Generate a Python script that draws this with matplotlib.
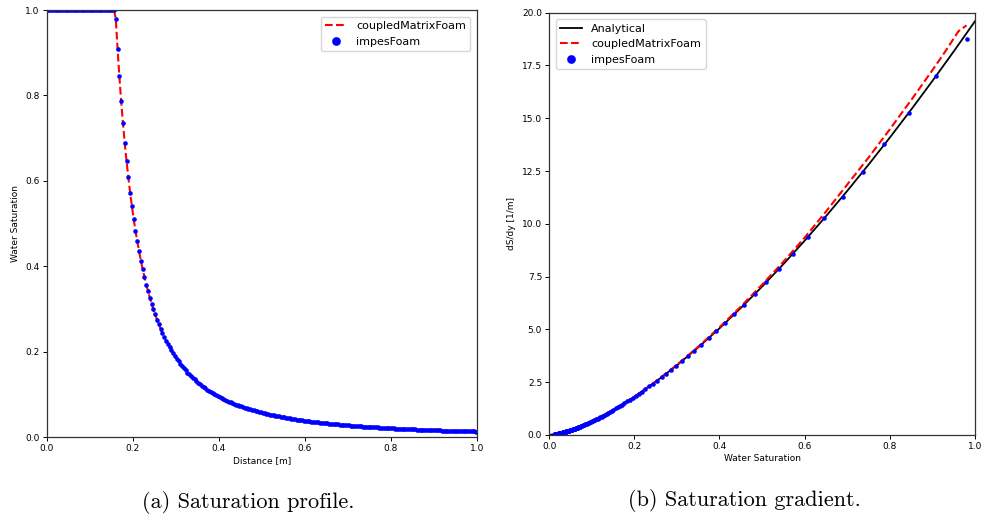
import numpy as np
import matplotlib
matplotlib.use("Agg")
import matplotlib.pyplot as plt

# mesh: 240 uniform cells on [0, 1] m
n_cells = 240
cell_x = (np.arange(n_cells) + 0.5) / n_cells

# impesFoam saturation: fully saturated cells behind the front
n_saturated = 38
front_sat = [
    0.980, 0.909, 0.845, 0.787, 0.736, 0.689, 0.646, 0.608, 0.572, 0.540,
    0.510, 0.483, 0.458, 0.435, 0.413, 0.393, 0.375, 0.357, 0.341, 0.326,
    0.312, 0.299, 0.287, 0.275, 0.264, 0.254, 0.244, 0.235, 0.226, 0.218,
    0.210, 0.203, 0.196, 0.190, 0.183, 0.177, 0.172, 0.166, 0.161, 0.156,
    0.151, 0.147, 0.143, 0.139, 0.135, 0.131, 0.127, 0.124, 0.120, 0.117,
    0.114, 0.111, 0.108, 0.106, 0.103, 0.100, 0.098, 0.096, 0.093, 0.091,
    0.089, 0.087, 0.085, 0.083, 0.081, 0.080, 0.078, 0.076, 0.075, 0.073,
    0.0715, 0.0700, 0.0686, 0.0672, 0.0659, 0.0646, 0.0633, 0.0621, 0.0609, 0.0598,
    0.0586, 0.0575, 0.0565, 0.0554, 0.0544, 0.0535, 0.0525, 0.0516, 0.0507, 0.0498,
    0.0489, 0.0481, 0.0473, 0.0465, 0.0457, 0.0450, 0.0442, 0.0435, 0.0428, 0.0421,
    0.0415, 0.0408, 0.0402, 0.0396, 0.0390, 0.0384, 0.0378, 0.0372, 0.0367, 0.0361,
    0.0356, 0.0351, 0.0346, 0.0341, 0.0336, 0.0331, 0.0327, 0.0322, 0.0318, 0.0313,
    0.0309, 0.0305, 0.0301, 0.0297, 0.0293, 0.0289, 0.0285, 0.0281, 0.0278, 0.0274,
    0.0271, 0.0267, 0.0264, 0.0260, 0.0257, 0.0254, 0.0251, 0.0248, 0.0245, 0.0242,
    0.0239, 0.0236, 0.0233, 0.0230, 0.0228, 0.0225, 0.0223, 0.0220, 0.0217, 0.0215,
    0.0212, 0.0210, 0.0208, 0.0205, 0.0203, 0.0201, 0.0199, 0.0197, 0.0194, 0.0192,
    0.0190, 0.0188, 0.0186, 0.0184, 0.0182, 0.0180, 0.0179, 0.0177, 0.0175, 0.0173,
    0.0171, 0.0170, 0.0168, 0.0166, 0.0165, 0.0163, 0.0161, 0.0160, 0.0158, 0.0157,
    0.0155, 0.0154, 0.0152, 0.0151, 0.0149, 0.0148, 0.0146, 0.0145, 0.0144, 0.0142,
    0.0141, 0.0140, 0.0138, 0.0137, 0.0136, 0.0135, 0.0134, 0.0132, 0.0131, 0.0130,
    0.0129, 0.0128,
]
impes_sat = [1.0] * n_saturated + front_sat
# coupledMatrixFoam profile is indistinguishable from impesFoam at this scale
coupled_sat = list(impes_sat)

# impesFoam gradient dS/dy for the front cells (same order as front_sat)
impes_grad = [
    18.75, 17.01, 15.27, 13.76, 12.44, 11.29, 10.27, 9.37, 8.58, 7.87,
    7.24, 6.67, 6.17, 5.71, 5.30, 4.92, 4.58, 4.27, 3.99, 3.73,
    3.50, 3.28, 3.08, 2.90, 2.73, 2.58, 2.43, 2.30, 2.17, 2.06,
    1.95, 1.85, 1.76, 1.67, 1.59, 1.52, 1.44, 1.38, 1.31, 1.26,
    1.20, 1.130, 1.082, 1.036, 0.992, 0.952, 0.913, 0.876, 0.842, 0.809,
    0.778, 0.748, 0.720, 0.693, 0.668, 0.644, 0.621, 0.599, 0.578, 0.558,
    0.539, 0.521, 0.504, 0.487, 0.471, 0.456, 0.442, 0.428, 0.414, 0.402,
    0.389, 0.378, 0.366, 0.355, 0.345, 0.335, 0.325, 0.316, 0.307, 0.298,
    0.290, 0.282, 0.275, 0.267, 0.260, 0.253, 0.246, 0.240, 0.234, 0.228,
    0.222, 0.216, 0.211, 0.206, 0.201, 0.196, 0.191, 0.187, 0.182, 0.178,
    0.174, 0.170, 0.167, 0.163, 0.160, 0.156, 0.153, 0.149, 0.146, 0.142,
    0.139, 0.136, 0.134, 0.131, 0.128, 0.126, 0.123, 0.120, 0.117, 0.115,
    0.112, 0.110, 0.108, 0.106, 0.104, 0.102, 0.100, 0.098, 0.096, 0.094,
    0.092, 0.091, 0.089, 0.087, 0.086, 0.084, 0.083, 0.081, 0.080, 0.078,
    0.077, 0.076, 0.074, 0.073, 0.072, 0.071, 0.070, 0.068, 0.067, 0.066,
    0.065, 0.064, 0.063, 0.062, 0.061, 0.060, 0.059, 0.058, 0.057, 0.056,
    0.055, 0.054, 0.053, 0.052, 0.051, 0.051, 0.050, 0.049, 0.048, 0.048,
    0.047, 0.046, 0.046, 0.045, 0.044, 0.044, 0.043, 0.042, 0.042, 0.041,
    0.0405, 0.040, 0.039, 0.039, 0.038, 0.038, 0.037, 0.037, 0.036, 0.036,
    0.035, 0.035, 0.034, 0.034, 0.033, 0.033, 0.032, 0.032, 0.032, 0.031,
    0.031, 0.030,
]

# analytical dS/dy vs S
analytic_sat = [0.0, 0.025, 0.05, 0.1, 0.15, 0.2, 0.25, 0.3, 0.35, 0.4, 0.45,
                0.5, 0.55, 0.6, 0.65, 0.7, 0.75, 0.8, 0.85, 0.9, 0.95, 1.0]
analytic_grad = [0.0, 0.083, 0.233, 0.649, 1.182, 1.810, 2.519, 3.299, 4.145,
                 5.050, 6.012, 7.026, 8.091, 9.203, 10.360, 11.561, 12.804,
                 14.087, 15.410, 16.771, 18.167, 19.60]

# coupledMatrixFoam dS/dy vs S
coupled_grad_sat = [0.013, 0.05, 0.1, 0.15, 0.2, 0.25, 0.3, 0.35, 0.4, 0.45,
                    0.5, 0.55, 0.6, 0.65, 0.7, 0.75, 0.8, 0.85, 0.9, 0.93,
                    0.961, 0.98]
coupled_grad = [0.03, 0.23, 0.65, 1.18, 1.81, 2.53, 3.32, 4.18, 5.10, 6.08,
                7.12, 8.20, 9.35, 10.58, 11.86, 13.14, 14.48, 15.86, 17.28,
                18.16, 19.12, 19.40]

tick_fs = 6.5
fig = plt.figure(figsize=(9.84, 5.14), dpi=100)
ax1 = fig.add_axes([0.0475, 0.1498, 0.4373, 0.8307])
ax2 = fig.add_axes([0.558, 0.1537, 0.4329, 0.8216])

# (a) saturation profile
ax1.plot(cell_x, coupled_sat, "--", color="red", lw=1.5, label="coupledMatrixFoam")
ax1.plot(cell_x, impes_sat, "o", color="blue", ms=3.3, mew=0, label="impesFoam")
ax1.set_xlim(0, 1)
ax1.set_ylim(0, 1)
ax1.set_xlabel("Distance [m]", fontsize=tick_fs, labelpad=2)
ax1.set_ylabel("Water Saturation", fontsize=tick_fs, labelpad=4)
ax1.legend(loc="upper right", fontsize=8, markerscale=1.9, borderaxespad=0.6)

# (b) saturation gradient
front_x = impes_sat[n_saturated:]
ax2.plot(analytic_sat, analytic_grad, "-", color="black", lw=1.3, label="Analytical")
ax2.plot(coupled_grad_sat, coupled_grad, "--", color="red", lw=1.5, label="coupledMatrixFoam")
ax2.plot(front_x, impes_grad, "o", color="blue", ms=3.3, mew=0, label="impesFoam")
ax2.set_xlim(0, 1)
ax2.set_ylim(0, 20)
ax2.set_yticks(np.arange(0, 20.1, 2.5))
ax2.set_xlabel("Water Saturation", fontsize=tick_fs, labelpad=2)
ax2.set_ylabel("dS/dy [1/m]", fontsize=tick_fs, labelpad=4)
ax2.legend(loc="upper left", fontsize=8, markerscale=1.9, borderaxespad=0.6)

for ax in (ax1, ax2):
    ax.tick_params(labelsize=tick_fs, length=3, width=0.7, pad=2)
    for sp in ax.spines.values():
        sp.set_linewidth(0.9)
        sp.set_color("#333333")

fig.text(0.252, 0.0117, "(a) Saturation profile.", ha="center", va="baseline",
         fontsize=16, family="cmr10")
fig.text(0.757, 0.0156, "(b) Saturation gradient.", ha="center", va="baseline",
         fontsize=16, family="cmr10")

fig.savefig("out.png", dpi=100)
